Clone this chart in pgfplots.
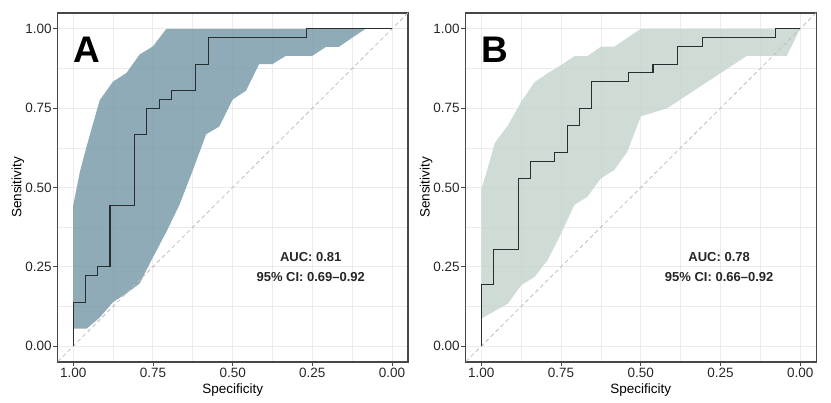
\documentclass[border=0pt]{standalone}
\usepackage{fontspec}
\setmainfont{Liberation Sans}
\usepackage{pgfplots}
\pgfplotsset{compat=1.18}
\definecolor{fillA}{RGB}{118,153,168}
\definecolor{fillB}{RGB}{196,212,204}
\definecolor{gridc}{RGB}{235,235,235}
\definecolor{diagc}{RGB}{190,190,190}
\definecolor{linec}{RGB}{38,46,50}
\pgfplotsset{rocstyle/.style={
  scale only axis, width=350.7pt, height=349pt,
  x dir=reverse, xmin=-0.05, xmax=1.05, ymin=-0.05, ymax=1.05,
  xtick={0,0.25,0.5,0.75,1}, ytick={0,0.25,0.5,0.75,1},
  minor xtick={0.125,0.375,0.625,0.875}, minor ytick={0.125,0.375,0.625,0.875},
  grid=both, major grid style={gridc, line width=1pt}, minor grid style={gridc, line width=0.6pt},
  axis line style={black!72, line width=1.1pt},
  tick style={black!72, line width=0.8pt},
  tick align=outside, tick pos=left, major tick length=4pt, minor tick length=0pt,
  /pgf/number format/fixed, /pgf/number format/fixed zerofill, /pgf/number format/precision=2,
  /pgf/number format/assume math mode=true,
  ticklabel style={font=\fontsize{13.5}{15}\selectfont, text=black!85},
  yticklabel style={inner sep=1.5pt},
  xticklabel style={inner sep=2pt},
  xlabel=Specificity, ylabel=Sensitivity,
  label style={font=\fontsize{13.5}{16}\selectfont, text=black},
  ylabel style={xshift=0pt, yshift=-4pt},
}}
\begin{document}
\begin{tikzpicture}
\useasboundingbox (0,0) rectangle (831pt,403pt);
% Panel A
\begin{axis}[rocstyle, at={(57.3pt,41pt)}, anchor=south west]
\addplot[fill=fillA, fill opacity=0.82, draw=none] coordinates {
(1,0.444) (0.979,0.55) (0.958,0.63) (0.917,0.775) (0.875,0.834) (0.833,0.861) (0.792,0.919) (0.75,0.945) (0.708,1) (0,1)
(0.083,1) (0.125,0.972) (0.167,0.943) (0.208,0.943) (0.25,0.915) (0.292,0.915) (0.333,0.915) (0.375,0.889) (0.417,0.889) (0.458,0.805) (0.5,0.777) (0.542,0.692) (0.583,0.668) (0.625,0.554) (0.667,0.445) (0.708,0.36) (0.75,0.28) (0.792,0.197) (0.833,0.166) (0.875,0.139) (0.917,0.09) (0.958,0.055) (1,0.055)
} -- cycle;
\addplot[diagc, line width=0.8pt, dash pattern=on 4pt off 3pt] coordinates {(-0.05,1.05) (1.05,-0.05)};
\addplot[linec, line width=1.1pt] coordinates {
(1,0) (1,0.1389) (0.9615,0.1389) (0.9615,0.2222) (0.9231,0.2222) (0.9231,0.25) (0.8846,0.25) (0.8846,0.4444) (0.8077,0.4444) (0.8077,0.6667) (0.7692,0.6667) (0.7692,0.75) (0.7308,0.75) (0.7308,0.7778) (0.6923,0.7778) (0.6923,0.8056) (0.6154,0.8056) (0.6154,0.8889) (0.5769,0.8889) (0.5769,0.9722) (0.2692,0.9722) (0.2692,1) (0,1)};
\node[anchor=west, inner sep=0pt, font=\fontsize{37}{37}\selectfont\bfseries] at (axis cs:1.0,0.935) {A};
\node[font=\fontsize{13}{15}\selectfont\bfseries, text=black!85] at (axis cs:0.255,0.281) {AUC: 0.81};
\node[font=\fontsize{13}{15}\selectfont\bfseries, text=black!85] at (axis cs:0.255,0.218) {95\% CI: 0.69–0.92};
\end{axis}
% Panel B
\begin{axis}[rocstyle, at={(465.4pt,41pt)}, anchor=south west]
\addplot[fill=fillB, fill opacity=0.82, draw=none] coordinates {
(1,0.495) (0.983,0.55) (0.958,0.64) (0.917,0.695) (0.875,0.77) (0.833,0.832) (0.792,0.86) (0.75,0.886) (0.708,0.914) (0.667,0.914) (0.625,0.944) (0.583,0.944) (0.5,1) (0,1)
(0.042,0.915) (0.167,0.915) (0.417,0.75) (0.5,0.724) (0.542,0.613) (0.583,0.555) (0.625,0.529) (0.667,0.471) (0.708,0.445) (0.75,0.355) (0.792,0.271) (0.833,0.218) (0.875,0.192) (0.917,0.134) (1,0.087)
} -- cycle;
\addplot[diagc, line width=0.8pt, dash pattern=on 4pt off 3pt] coordinates {(-0.05,1.05) (1.05,-0.05)};
\addplot[linec, line width=1.1pt] coordinates {
(1,0) (1,0.1944) (0.9615,0.1944) (0.9615,0.3056) (0.8846,0.3056) (0.8846,0.5278) (0.8462,0.5278) (0.8462,0.5833) (0.7692,0.5833) (0.7692,0.6111) (0.7308,0.6111) (0.7308,0.6944) (0.6923,0.6944) (0.6923,0.75) (0.6538,0.75) (0.6538,0.8333) (0.5385,0.8333) (0.5385,0.8611) (0.4615,0.8611) (0.4615,0.8889) (0.3846,0.8889) (0.3846,0.9444) (0.3077,0.9444) (0.3077,0.9722) (0.0769,0.9722) (0.0769,1) (0,1)};
\node[anchor=west, inner sep=0pt, font=\fontsize{37}{37}\selectfont\bfseries] at (axis cs:1.0,0.935) {B};
\node[font=\fontsize{13}{15}\selectfont\bfseries, text=black!85] at (axis cs:0.254,0.281) {AUC: 0.78};
\node[font=\fontsize{13}{15}\selectfont\bfseries, text=black!85] at (axis cs:0.254,0.218) {95\% CI: 0.66–0.92};
\end{axis}
\end{tikzpicture}
\end{document}
